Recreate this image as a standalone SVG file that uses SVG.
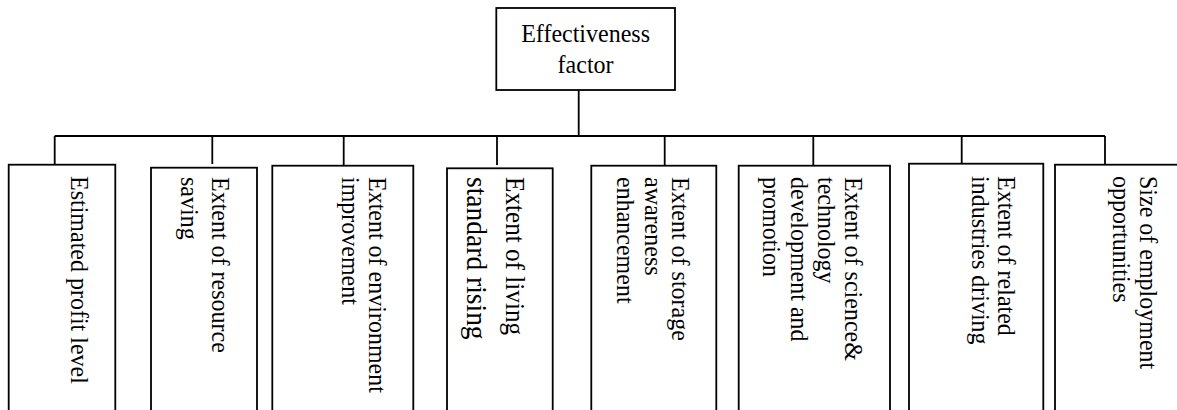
<svg xmlns="http://www.w3.org/2000/svg" width="1177" height="410" viewBox="0 0 1177 410">
  <style>
    .box { fill: #ffffff; stroke: #000000; stroke-width: 1.8; }
    .wire { fill: none; stroke: #000000; stroke-width: 1.8; }
    .lbl { font-family: "Liberation Serif", "Times New Roman", serif; font-size: 24px; fill: #000000; }
  </style>
  <rect x="0" y="0" width="1177" height="410" fill="#ffffff"/>

  <!-- connectors: root stem, bus line and drops -->
  <g id="connectors">
    <line class="wire" x1="578.7" y1="90" x2="578.7" y2="136"/>
    <line class="wire" x1="54.7" y1="136" x2="1105" y2="136"/>
    <line class="wire" x1="54.7" y1="136" x2="54.7" y2="164.7"/>
    <line class="wire" x1="212.3" y1="136" x2="212.3" y2="164"/>
    <line class="wire" x1="343.7" y1="136" x2="343.7" y2="165.7"/>
    <line class="wire" x1="497" y1="136" x2="497" y2="165"/>
    <line class="wire" x1="664.7" y1="136" x2="664.7" y2="165.7"/>
    <line class="wire" x1="813.3" y1="136" x2="813.3" y2="165.7"/>
    <line class="wire" x1="961.7" y1="136" x2="961.7" y2="163.7"/>
    <line class="wire" x1="1105" y1="136" x2="1105" y2="164.7"/>
  </g>

  <!-- root node -->
  <g id="root">
    <rect class="box" x="496.3" y="8" width="178.7" height="82"/>
    <text class="lbl" x="585.6" y="41.7" text-anchor="middle" transform="translate(0,41.7) scale(1,1.06) translate(0,-41.7)">Effectiveness</text>
    <text class="lbl" x="585.6" y="73.3" text-anchor="middle" transform="translate(0,73.3) scale(1,1.06) translate(0,-73.3)">factor</text>
  </g>

  <!-- leaf nodes, labels read top to bottom -->
  <g id="n1">
    <rect class="box" x="8.7" y="164.7" width="106.6" height="260"/>
    <text class="lbl" transform="translate(71,176) rotate(90) scale(1,1.07)">Estimated profit level</text>
  </g>

  <g id="n2">
    <rect class="box" x="151" y="167.7" width="106" height="260"/>
    <text class="lbl" transform="translate(212.3,177) rotate(90) scale(1,1.07)">Extent of resource</text>
    <text class="lbl" transform="translate(180.5,177) rotate(90) scale(1,1.07)">saving</text>
  </g>

  <g id="n3">
    <rect class="box" x="272.3" y="165.7" width="141" height="260"/>
    <text class="lbl" transform="translate(369,177) rotate(90) scale(1,1.07)">Extent of environment</text>
    <text class="lbl" transform="translate(341.7,177) rotate(90) scale(1,1.07)">improvement</text>
  </g>

  <g id="n4">
    <rect class="box" x="447" y="168.3" width="105.7" height="260"/>
    <text class="lbl" transform="translate(505.7,177) rotate(90) scale(1,1.07)" style="font-size:25.2px">Extent of living</text>
    <text class="lbl" transform="translate(466.7,177) rotate(90) scale(1,1.07)" style="font-size:27.5px">standard rising</text>
  </g>

  <g id="n5">
    <rect class="box" x="591.3" y="165.7" width="125" height="260"/>
    <text class="lbl" transform="translate(672.3,177) rotate(90) scale(1,1.07)">Extent of storage</text>
    <text class="lbl" transform="translate(645,177) rotate(90) scale(1,1.07)">awareness</text>
    <text class="lbl" transform="translate(617,177) rotate(90) scale(1,1.07)">enhancement</text>
  </g>

  <g id="n6">
    <rect class="box" x="738.7" y="165.7" width="151.3" height="260"/>
    <text class="lbl" transform="translate(845,177) rotate(90) scale(1,1.07)">Extent of science&amp;</text>
    <text class="lbl" transform="translate(818,177) rotate(90) scale(1,1.07)">technology</text>
    <text class="lbl" transform="translate(790.5,177) rotate(90) scale(1,1.07)">development and</text>
    <text class="lbl" transform="translate(763.3,177) rotate(90) scale(1,1.07)">promotion</text>
  </g>

  <g id="n7">
    <rect class="box" x="909" y="163.7" width="134.3" height="260"/>
    <text class="lbl" transform="translate(998.3,176) rotate(90) scale(1,1.07)">Extent of related</text>
    <text class="lbl" transform="translate(971.7,176) rotate(90) scale(1,1.07)">industries driving</text>
  </g>

  <g id="n8">
    <rect class="box" x="1055" y="164.7" width="140" height="260"/>
    <text class="lbl" transform="translate(1140,176) rotate(90) scale(1,1.07)">Size of employment</text>
    <text class="lbl" transform="translate(1113.3,176) rotate(90) scale(1,1.07)">opportunities</text>
  </g>
</svg>
